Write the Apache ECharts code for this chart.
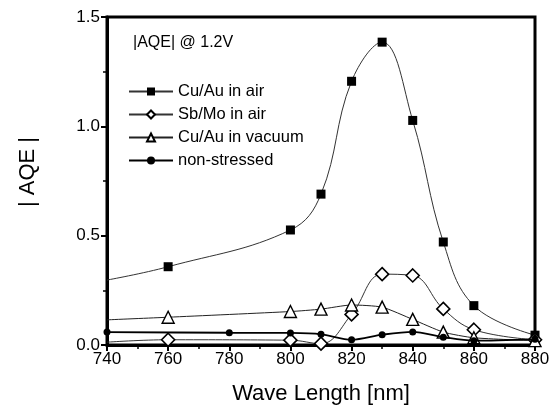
<!DOCTYPE html>
<html>
<head>
<meta charset="utf-8">
<script src="https://cdn.jsdelivr.net/npm/echarts@6/dist/echarts.min.js"></script>
<style>html,body{margin:0;padding:0;background:#fff}#c{width:557px;height:410px}</style>
</head>
<body>
<div id="c"></div>
<script>
// wavelength [nm] and |AQE| values
const cuAuAirX   = [740, 760, 800, 810, 820, 830, 840, 850, 860, 880];
const cuAuAirY   = [0.297, 0.358, 0.526, 0.69, 1.206, 1.385, 1.027, 0.471, 0.18, 0.045];
const sbMoAirX   = [740, 760, 800, 810, 820, 830, 840, 850, 860, 880];
const sbMoAirY   = [0.013, 0.024, 0.022, 0.006, 0.14, 0.324, 0.318, 0.165, 0.07, 0.024];
const cuAuVacX   = [740, 760, 800, 810, 820, 830, 840, 850, 860, 880];
const cuAuVacY   = [0.115, 0.127, 0.153, 0.164, 0.183, 0.173, 0.117, 0.059, 0.033, 0.02];
const nonStrX    = [740, 780, 800, 810, 820, 830, 840, 850, 860, 880];
const nonStrY    = [0.059, 0.056, 0.055, 0.049, 0.024, 0.047, 0.06, 0.036, 0.02, 0.026];
const seriesNames = ['Cu/Au in air', 'Sb/Mo in air', 'Cu/Au in vacuum', 'non-stressed'];
// x positions where the source draws the curve but no marker
const noMarkerX = [[740], [740], [740], []];

const FONT = '"Liberation Sans", Arial, Helvetica, sans-serif';

function pts(xs, ys, idx) {
  return xs.map((x, i) => {
    const p = { value: [x, ys[i]] };
    if (noMarkerX[idx].indexOf(x) >= 0) p.symbol = 'none';
    return p;
  });
}

const chart = echarts.init(document.getElementById('c'), null, { renderer: 'canvas' });
chart.setOption({
  animation: false,
  backgroundColor: '#fff',
  grid: { left: 107, right: 22, top: 17, bottom: 62, show: true, borderColor: '#000', borderWidth: 3, backgroundColor: 'transparent' },
  graphic: [{
    type: 'text', left: 133, top: 35,
    style: { text: '|AQE| @ 1.2V', font: '16px ' + FONT, fill: '#000' }
  }],
  legend: {
    orient: 'vertical', left: 123, top: 78,
    itemWidth: 44, itemHeight: 10, itemGap: 6,
    textStyle: { fontFamily: FONT, fontSize: 16.5, color: '#000' },
    data: seriesNames
  },
  xAxis: {
    type: 'value', min: 740, max: 880, interval: 20,
    name: 'Wave Length [nm]', nameLocation: 'middle', nameGap: 38,
    nameTextStyle: { fontFamily: FONT, fontSize: 22, color: '#000' },
    axisLine: { show: true, lineStyle: { color: '#000', width: 3 } },
    axisTick: { show: true, inside: false, length: 6, lineStyle: { color: '#000', width: 2 } },
    minorTick: { show: true, splitNumber: 2, length: 4, lineStyle: { color: '#000', width: 1.5 } },
    axisLabel: { fontFamily: FONT, fontSize: 17, color: '#000', margin: 6 },
    splitLine: { show: false }
  },
  yAxis: {
    type: 'value', min: 0, max: 1.5, interval: 0.5,
    name: '| AQE |', nameLocation: 'middle', nameGap: 68, nameRotate: 90,
    nameTextStyle: { fontFamily: FONT, fontSize: 22, color: '#000', padding: [0, 0, 0, 18] },
    axisLine: { show: true, lineStyle: { color: '#000', width: 3 } },
    axisTick: { show: true, inside: false, length: 6, lineStyle: { color: '#000', width: 2 } },
    minorTick: { show: true, splitNumber: 2, length: 4, lineStyle: { color: '#000', width: 1.5 } },
    axisLabel: { fontFamily: FONT, fontSize: 17, color: '#000', margin: 7, formatter: v => v.toFixed(1) },
    splitLine: { show: false }
  },
  series: [
    {
      name: seriesNames[0], type: 'line', smooth: 0.4, data: pts(cuAuAirX, cuAuAirY, 0),
      symbol: 'rect', symbolSize: 9,
      lineStyle: { color: '#333', width: 1 },
      itemStyle: { color: '#000', borderColor: '#000', borderWidth: 0 },
      z: 3
    },
    {
      name: seriesNames[1], type: 'line', smooth: 0.4, data: pts(sbMoAirX, sbMoAirY, 1),
      symbol: 'diamond', symbolSize: 13,
      lineStyle: { color: '#333', width: 1 },
      itemStyle: { color: '#fff', borderColor: '#000', borderWidth: 1.6 },
      z: 4
    },
    {
      name: seriesNames[2], type: 'line', smooth: 0.2, data: pts(cuAuVacX, cuAuVacY, 2),
      symbol: 'triangle', symbolSize: 12,
      lineStyle: { color: '#222', width: 1 },
      itemStyle: { color: '#fff', borderColor: '#000', borderWidth: 1.4 },
      z: 5
    },
    {
      name: seriesNames[3], type: 'line', smooth: 0.3, data: pts(nonStrX, nonStrY, 3),
      symbol: 'circle', symbolSize: 7,
      lineStyle: { color: '#000', width: 1.8 },
      itemStyle: { color: '#000', borderColor: '#000', borderWidth: 0 },
      z: 6
    }
  ]
});
</script>
</body>
</html>
